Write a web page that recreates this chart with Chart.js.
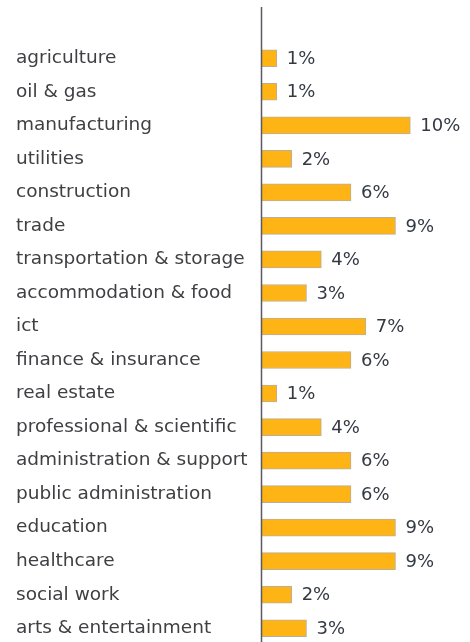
<!DOCTYPE html>
<html>
<head>
<meta charset="utf-8">
<script src="https://cdn.jsdelivr.net/npm/chart.js@4"></script>
<style>
  html, body { margin: 0; padding: 0; background: #fff; overflow: hidden; }
  #wrap { width: 470px; height: 645px; }
</style>
</head>
<body>
<div id="wrap"><canvas id="sectorChart"></canvas></div>
<script>
// sectors and their share (%)
const sectors = ['agriculture', 'oil & gas', 'manufacturing', 'utilities', 'construction', 'trade',
  'transportation & storage', 'accommodation & food', 'ict', 'finance & insurance', 'real estate',
  'professional & scientific', 'administration & support', 'public administration', 'education',
  'healthcare', 'social work', 'arts & entertainment'];
const shares = [1, 1, 10, 2, 6, 9, 4, 3, 7, 6, 1, 4, 6, 6, 9, 9, 2, 3];

const textFont = '"DejaVu Sans", Verdana, sans-serif';

// value label after each bar + the vertical axis line running up to the top
const barLabels = {
  id: 'barLabels',
  afterDatasetsDraw(chart) {
    const ctx = chart.ctx;
    const meta = chart.getDatasetMeta(0);
    ctx.save();
    ctx.font = '18px ' + textFont;
    ctx.fillStyle = '#343a44';
    ctx.textAlign = 'left';
    ctx.textBaseline = 'middle';
    meta.data.forEach((bar, i) => {
      ctx.fillText(shares[i] + '%', bar.x + 10, bar.y + 1);
    });
    const x = Math.round(chart.chartArea.left) - 0.5;
    ctx.strokeStyle = '#5a5a60';
    ctx.lineWidth = 1.5;
    ctx.beginPath();
    ctx.moveTo(x, 7);
    ctx.lineTo(x, chart.height);
    ctx.stroke();
    ctx.restore();
  }
};

const ctx = document.getElementById('sectorChart');

new Chart(ctx, {
  type: 'bar',
  data: {
    labels: sectors,
    datasets: [{
      data: shares,
      backgroundColor: '#FDB414',
      borderColor: 'rgba(160, 140, 110, 0.7)',
      borderWidth: 1,
      borderSkipped: 'left',
      barThickness: 17
    }]
  },
  options: {
    indexAxis: 'y',
    responsive: true,
    maintainAspectRatio: false,
    animation: false,
    layout: {
      padding: { left: 16, top: 41.5, right: 30, bottom: 0 }
    },
    plugins: {
      legend: { display: false },
      tooltip: { enabled: false }
    },
    scales: {
      x: {
        display: false,
        min: 0,
        max: 12
      },
      y: {
        grid: { display: false },
        border: { display: false },
        afterFit(scale) {
          scale.width = 246;
          scale.paddingTop = 0;
          scale.paddingBottom = 0;
        },
        ticks: {
          crossAlign: 'far',
          padding: 0,
          color: '#404044',
          font: { family: textFont, size: 18.5 }
        }
      }
    }
  },
  plugins: [barLabels]
});
</script>
</body>
</html>
